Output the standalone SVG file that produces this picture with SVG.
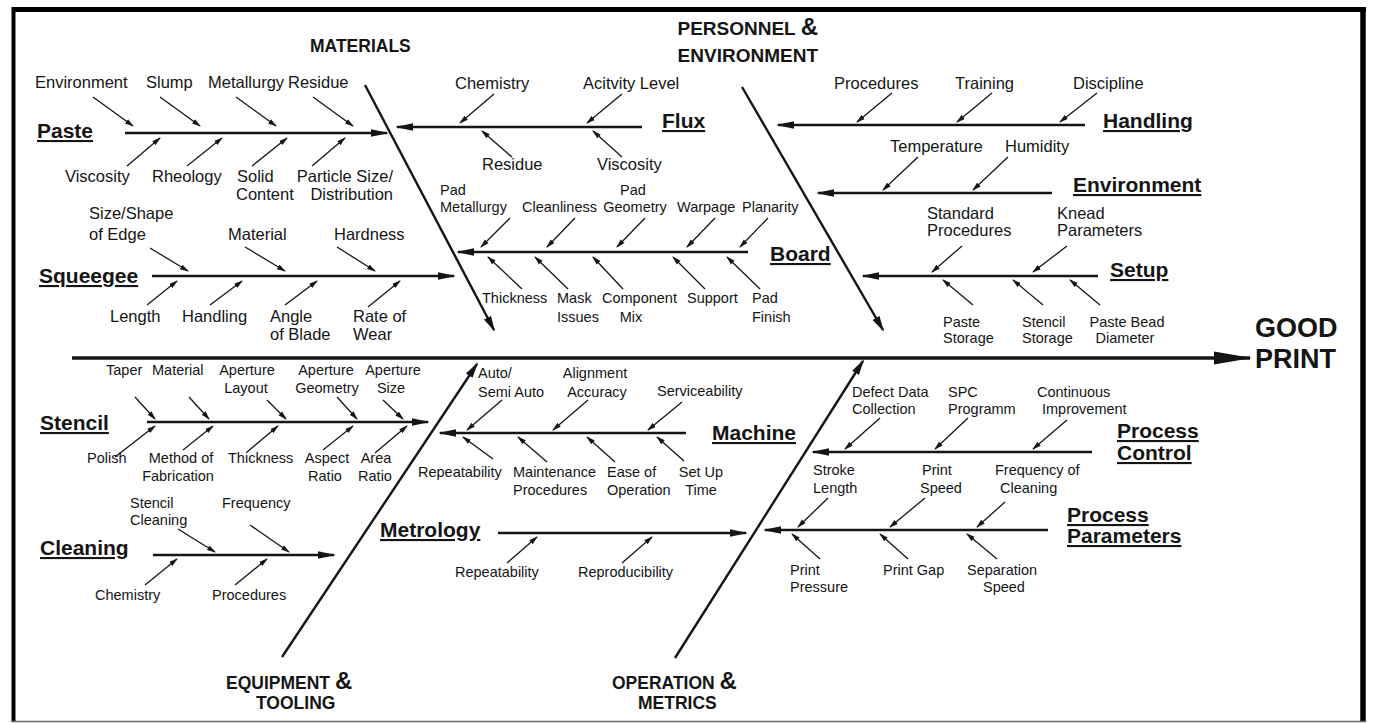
<svg xmlns="http://www.w3.org/2000/svg" width="1375" height="723" viewBox="0 0 1375 723">
<defs>
<style>
text { font-family: "Liberation Sans", Arial, Helvetica, sans-serif; fill: #151515; }
.l { font-size: 16.5px; }
.s { font-size: 14.5px; }
.m { text-anchor: middle; }
.e { text-anchor: end; }
.h { font-size: 21px; font-weight: bold; text-decoration: underline; }
.big { font-size: 17.5px; font-weight: bold; }
.bigw { font-size: 19px; font-weight: bold; }
.amp { font-size: 24px; }
.goal { font-size: 27px; font-weight: bold; }
.sub { stroke: #151515; stroke-width: 1.3; fill: none; marker-end: url(#ah); }
.cat { stroke: #151515; stroke-width: 2.4; fill: none; marker-end: url(#ahc); }
.bone { stroke: #151515; stroke-width: 2.4; fill: none; marker-end: url(#ahb); }
.spine { stroke: #151515; stroke-width: 3.4; fill: none; marker-end: url(#ahm); }
</style>
<marker id="ah" markerUnits="userSpaceOnUse" markerWidth="10" markerHeight="6" refX="8" refY="3" orient="auto"><path d="M0,0.4 L9,3 L0,5.6 z" fill="#151515"/></marker>
<marker id="ahc" markerUnits="userSpaceOnUse" markerWidth="19" markerHeight="10" refX="16" refY="5" orient="auto"><path d="M0,1.2 L18,5 L0,8.8 z" fill="#151515"/></marker>
<marker id="ahb" markerUnits="userSpaceOnUse" markerWidth="17" markerHeight="10" refX="14" refY="5" orient="auto"><path d="M0,1 L16,5 L0,9 z" fill="#151515"/></marker>
<marker id="ahm" markerUnits="userSpaceOnUse" markerWidth="40" markerHeight="16" refX="36" refY="8" orient="auto"><path d="M0,1.5 L38,8 L0,14.5 z" fill="#151515"/></marker>
</defs>

<rect width="1375" height="723" fill="#ffffff"/>

<!-- frame -->
<g id="frame" fill="none">
  <line x1="12" y1="9.5" x2="1366" y2="9.5" stroke="#000" stroke-width="5"/>
  <line x1="13.5" y1="7" x2="13.5" y2="722" stroke="#000" stroke-width="4"/>
  <line x1="1363" y1="7" x2="1363" y2="722" stroke="#000" stroke-width="5.5"/>
  <line x1="12" y1="721.5" x2="1366" y2="721.5" stroke="#666" stroke-width="1.5"/>
</g>

<!-- connectors -->
<g id="connectors">
  <line class="spine" x1="72" y1="358" x2="1250" y2="358"/>
  <!-- main bones -->
  <line class="bone" x1="365" y1="85" x2="494" y2="330"/>
  <line class="bone" x1="742" y1="87" x2="883" y2="330"/>
  <line class="bone" x1="282" y1="657" x2="477" y2="364"/>
  <line class="bone" x1="675" y1="658" x2="863" y2="361"/>
  <!-- category spines -->
  <line class="cat" x1="125" y1="133" x2="387" y2="133"/>
  <line class="cat" x1="642" y1="127" x2="397" y2="127"/>
  <line class="cat" x1="748" y1="252" x2="458" y2="252"/>
  <line class="cat" x1="152" y1="276" x2="454" y2="276"/>
  <line class="cat" x1="1085" y1="125" x2="778" y2="125"/>
  <line class="cat" x1="1052" y1="193" x2="818" y2="193"/>
  <line class="cat" x1="1098" y1="276" x2="863" y2="276"/>
  <line class="cat" x1="147" y1="422" x2="428" y2="422"/>
  <line class="cat" x1="153" y1="555" x2="334" y2="555"/>
  <line class="cat" x1="686" y1="433" x2="440" y2="433"/>
  <line class="cat" x1="498" y1="533" x2="746" y2="533"/>
  <line class="cat" x1="1092" y1="452" x2="813" y2="452"/>
  <line class="cat" x1="1048" y1="530" x2="765" y2="530"/>
  <!-- paste causes -->
  <line class="sub" x1="93" y1="97" x2="133" y2="126"/>
  <line class="sub" x1="160" y1="97" x2="200" y2="126"/>
  <line class="sub" x1="236" y1="97" x2="276" y2="126"/>
  <line class="sub" x1="313" y1="97" x2="353" y2="126"/>
  <line class="sub" x1="127" y1="166" x2="160" y2="138"/>
  <line class="sub" x1="187" y1="166" x2="222" y2="138"/>
  <line class="sub" x1="252" y1="166" x2="287" y2="138"/>
  <line class="sub" x1="312" y1="166" x2="345" y2="138"/>
  <!-- flux causes -->
  <line class="sub" x1="494" y1="94" x2="460" y2="123"/>
  <line class="sub" x1="622" y1="94" x2="587" y2="123"/>
  <line class="sub" x1="512" y1="157" x2="482" y2="131"/>
  <line class="sub" x1="622" y1="157" x2="593" y2="131"/>
  <!-- board causes -->
  <line class="sub" x1="510" y1="218" x2="481" y2="247"/>
  <line class="sub" x1="575" y1="218" x2="547" y2="247"/>
  <line class="sub" x1="645" y1="218" x2="617" y2="247"/>
  <line class="sub" x1="715" y1="218" x2="687" y2="247"/>
  <line class="sub" x1="768" y1="218" x2="740" y2="247"/>
  <line class="sub" x1="522" y1="289" x2="488" y2="257"/>
  <line class="sub" x1="568" y1="289" x2="535" y2="257"/>
  <line class="sub" x1="623" y1="289" x2="593" y2="257"/>
  <line class="sub" x1="705" y1="289" x2="673" y2="257"/>
  <line class="sub" x1="760" y1="289" x2="727" y2="257"/>
  <!-- squeegee causes -->
  <line class="sub" x1="150" y1="248" x2="188" y2="271"/>
  <line class="sub" x1="245" y1="247" x2="285" y2="271"/>
  <line class="sub" x1="337" y1="247" x2="375" y2="271"/>
  <line class="sub" x1="147" y1="305" x2="177" y2="281"/>
  <line class="sub" x1="210" y1="305" x2="242" y2="281"/>
  <line class="sub" x1="285" y1="305" x2="317" y2="281"/>
  <line class="sub" x1="368" y1="307" x2="400" y2="281"/>
  <!-- handling / environment / setup causes -->
  <line class="sub" x1="892" y1="93" x2="857" y2="122"/>
  <line class="sub" x1="992" y1="93" x2="957" y2="122"/>
  <line class="sub" x1="1097" y1="93" x2="1060" y2="122"/>
  <line class="sub" x1="918" y1="157" x2="883" y2="190"/>
  <line class="sub" x1="1008" y1="157" x2="973" y2="190"/>
  <line class="sub" x1="962" y1="246" x2="932" y2="272"/>
  <line class="sub" x1="1067" y1="246" x2="1033" y2="272"/>
  <line class="sub" x1="973" y1="305" x2="943" y2="280"/>
  <line class="sub" x1="1043" y1="305" x2="1013" y2="280"/>
  <line class="sub" x1="1100" y1="305" x2="1070" y2="280"/>
  <!-- stencil causes -->
  <line class="sub" x1="135" y1="397" x2="155" y2="419"/>
  <line class="sub" x1="189" y1="397" x2="209" y2="419"/>
  <line class="sub" x1="267" y1="400" x2="286" y2="419"/>
  <line class="sub" x1="337" y1="397" x2="357" y2="419"/>
  <line class="sub" x1="383" y1="400" x2="403" y2="419"/>
  <line class="sub" x1="115" y1="457" x2="155" y2="426"/>
  <line class="sub" x1="183" y1="450" x2="213" y2="426"/>
  <line class="sub" x1="247" y1="452" x2="278" y2="426"/>
  <line class="sub" x1="323" y1="450" x2="353" y2="426"/>
  <line class="sub" x1="375" y1="453" x2="407" y2="426"/>
  <!-- cleaning causes -->
  <line class="sub" x1="178" y1="529" x2="215" y2="552"/>
  <line class="sub" x1="250" y1="525" x2="289" y2="552"/>
  <line class="sub" x1="145" y1="585" x2="177" y2="559"/>
  <line class="sub" x1="235" y1="585" x2="267" y2="559"/>
  <!-- machine causes -->
  <line class="sub" x1="502" y1="400" x2="467" y2="430"/>
  <line class="sub" x1="588" y1="400" x2="553" y2="430"/>
  <line class="sub" x1="682" y1="402" x2="648" y2="430"/>
  <line class="sub" x1="493" y1="459" x2="463" y2="437"/>
  <line class="sub" x1="547" y1="462" x2="518" y2="437"/>
  <line class="sub" x1="615" y1="462" x2="587" y2="437"/>
  <line class="sub" x1="684" y1="461" x2="657" y2="437"/>
  <!-- metrology causes -->
  <line class="sub" x1="507" y1="563" x2="537" y2="537"/>
  <line class="sub" x1="622" y1="563" x2="652" y2="537"/>
  <!-- process control causes -->
  <line class="sub" x1="880" y1="418" x2="845" y2="449"/>
  <line class="sub" x1="968" y1="418" x2="935" y2="449"/>
  <line class="sub" x1="1067" y1="420" x2="1033" y2="449"/>
  <!-- process parameter causes -->
  <line class="sub" x1="828" y1="498" x2="798" y2="527"/>
  <line class="sub" x1="925" y1="498" x2="890" y2="527"/>
  <line class="sub" x1="1005" y1="502" x2="977" y2="527"/>
  <line class="sub" x1="820" y1="559" x2="792" y2="534"/>
  <line class="sub" x1="908" y1="559" x2="880" y2="534"/>
  <line class="sub" x1="997" y1="559" x2="967" y2="534"/>
</g>

<!-- main categories -->
<g id="materials"><text class="big" x="310" y="52">MATERIALS</text></g>
<g id="personnel-environment">
  <text class="bigw e" x="818" y="35">PERSONNEL <tspan class="amp">&amp;</tspan></text>
  <text class="bigw e" x="818" y="62">ENVIRONMENT</text>
</g>
<g id="equipment-tooling">
  <text class="big" x="226" y="689">EQUIPMENT <tspan class="amp">&amp;</tspan></text>
  <text class="big" x="256" y="709">TOOLING</text>
</g>
<g id="operation-metrics">
  <text class="big" x="612" y="689">OPERATION <tspan class="amp">&amp;</tspan></text>
  <text class="big" x="638" y="709">METRICS</text>
</g>
<g id="good-print">
  <text class="goal" x="1255" y="337">GOOD</text>
  <text class="goal" x="1255" y="368">PRINT</text>
</g>

<!-- paste -->
<g id="paste">
  <text class="h" x="37" y="138">Paste</text>
  <text class="l" x="35" y="88">Environment</text>
  <text class="l" x="146" y="88">Slump</text>
  <text class="l" x="208" y="88">Metallurgy</text>
  <text class="l" x="288" y="88">Residue</text>
  <text class="l" x="65" y="182">Viscosity</text>
  <text class="l" x="152" y="182">Rheology</text>
  <text class="l" x="237" y="182">Solid</text>
  <text class="l" x="236" y="200">Content</text>
  <text class="l e" x="393" y="182">Particle Size/</text>
  <text class="l e" x="393" y="200">Distribution</text>
</g>

<!-- flux -->
<g id="flux">
  <text class="h" x="662" y="128">Flux</text>
  <text class="l" x="455" y="89">Chemistry</text>
  <text class="l" x="583" y="89">Acitvity Level</text>
  <text class="l" x="482" y="170">Residue</text>
  <text class="l" x="597" y="170">Viscosity</text>
</g>

<!-- board -->
<g id="board">
  <text class="h" x="770" y="261">Board</text>
  <text class="s" x="440" y="195">Pad</text>
  <text class="s" x="440" y="212">Metallurgy</text>
  <text class="s" x="522" y="212">Cleanliness</text>
  <text class="s m" x="633" y="195">Pad</text>
  <text class="s m" x="635" y="212">Geometry</text>
  <text class="s" x="677" y="212">Warpage</text>
  <text class="s" x="742" y="212">Planarity</text>
  <text class="s" x="482" y="303">Thickness</text>
  <text class="s" x="557" y="303">Mask</text>
  <text class="s" x="557" y="322">Issues</text>
  <text class="s" x="602" y="303">Component</text>
  <text class="s m" x="631" y="322">Mix</text>
  <text class="s" x="687" y="303">Support</text>
  <text class="s" x="752" y="303">Pad</text>
  <text class="s" x="752" y="322">Finish</text>
</g>

<!-- squeegee -->
<g id="squeegee">
  <text class="h" x="39" y="283">Squeegee</text>
  <text class="l" x="89" y="219">Size/Shape</text>
  <text class="l" x="89" y="240">of Edge</text>
  <text class="l" x="228" y="240">Material</text>
  <text class="l" x="334" y="240">Hardness</text>
  <text class="l" x="110" y="322">Length</text>
  <text class="l" x="182" y="322">Handling</text>
  <text class="l" x="270" y="322">Angle</text>
  <text class="l" x="270" y="340">of Blade</text>
  <text class="l" x="353" y="322">Rate of</text>
  <text class="l" x="353" y="340">Wear</text>
</g>

<!-- handling -->
<g id="handling">
  <text class="h" x="1103" y="128">Handling</text>
  <text class="l" x="834" y="89">Procedures</text>
  <text class="l" x="955" y="89">Training</text>
  <text class="l" x="1073" y="89">Discipline</text>
</g>

<!-- environment -->
<g id="environment">
  <text class="h" x="1073" y="192">Environment</text>
  <text class="l" x="890" y="152">Temperature</text>
  <text class="l" x="1005" y="152">Humidity</text>
</g>

<!-- setup -->
<g id="setup">
  <text class="h" x="1110" y="277">Setup</text>
  <text class="l" x="927" y="219">Standard</text>
  <text class="l" x="927" y="236">Procedures</text>
  <text class="l" x="1057" y="219">Knead</text>
  <text class="l" x="1057" y="236">Parameters</text>
  <text class="s" x="943" y="327">Paste</text>
  <text class="s" x="943" y="343">Storage</text>
  <text class="s" x="1022" y="327">Stencil</text>
  <text class="s" x="1022" y="343">Storage</text>
  <text class="s m" x="1127" y="327">Paste Bead</text>
  <text class="s m" x="1125" y="343">Diameter</text>
</g>

<!-- stencil -->
<g id="stencil">
  <text class="h" x="40" y="430">Stencil</text>
  <text class="s" x="106" y="375">Taper</text>
  <text class="s" x="152" y="375">Material</text>
  <text class="s m" x="247" y="375">Aperture</text>
  <text class="s m" x="246" y="393">Layout</text>
  <text class="s m" x="326" y="375">Aperture</text>
  <text class="s m" x="327" y="393">Geometry</text>
  <text class="s m" x="393" y="375">Aperture</text>
  <text class="s m" x="391" y="393">Size</text>
  <text class="s" x="87" y="463">Polish</text>
  <text class="s m" x="181" y="463">Method of</text>
  <text class="s m" x="178" y="481">Fabrication</text>
  <text class="s" x="228" y="463">Thickness</text>
  <text class="s m" x="327" y="463">Aspect</text>
  <text class="s m" x="325" y="481">Ratio</text>
  <text class="s m" x="376" y="463">Area</text>
  <text class="s m" x="375" y="481">Ratio</text>
</g>

<!-- cleaning -->
<g id="cleaning">
  <text class="h" x="40" y="555">Cleaning</text>
  <text class="s" x="130" y="508">Stencil</text>
  <text class="s" x="130" y="525">Cleaning</text>
  <text class="s" x="222" y="508">Frequency</text>
  <text class="s" x="95" y="600">Chemistry</text>
  <text class="s" x="212" y="600">Procedures</text>
</g>

<!-- machine -->
<g id="machine">
  <text class="h" x="712" y="440">Machine</text>
  <text class="s" x="478" y="378">Auto/</text>
  <text class="s" x="478" y="397">Semi Auto</text>
  <text class="s m" x="595" y="378">Alignment</text>
  <text class="s m" x="597" y="397">Accuracy</text>
  <text class="s" x="657" y="396">Serviceability</text>
  <text class="s" x="418" y="477">Repeatability</text>
  <text class="s" x="513" y="477">Maintenance</text>
  <text class="s" x="513" y="495">Procedures</text>
  <text class="s" x="607" y="477">Ease of</text>
  <text class="s" x="607" y="495">Operation</text>
  <text class="s m" x="701" y="477">Set Up</text>
  <text class="s m" x="701" y="495">Time</text>
</g>

<!-- metrology -->
<g id="metrology">
  <text class="h" x="380" y="537">Metrology</text>
  <text class="s" x="455" y="577">Repeatability</text>
  <text class="s" x="578" y="577">Reproducibility</text>
</g>

<!-- process control -->
<g id="process-control">
  <text class="h" x="1117" y="438">Process</text>
  <text class="h" x="1117" y="460">Control</text>
  <text class="s" x="852" y="397">Defect Data</text>
  <text class="s" x="852" y="414">Collection</text>
  <text class="s" x="948" y="397">SPC</text>
  <text class="s" x="948" y="414">Programm</text>
  <text class="s" x="1037" y="397">Continuous</text>
  <text class="s" x="1042" y="414">Improvement</text>
</g>

<!-- process parameters -->
<g id="process-parameters">
  <text class="h" x="1067" y="522">Process</text>
  <text class="h" x="1067" y="543">Parameters</text>
  <text class="s" x="813" y="475">Stroke</text>
  <text class="s" x="813" y="493">Length</text>
  <text class="s" x="922" y="475">Print</text>
  <text class="s" x="920" y="493">Speed</text>
  <text class="s" x="995" y="475">Frequency of</text>
  <text class="s" x="1000" y="493">Cleaning</text>
  <text class="s" x="790" y="575">Print</text>
  <text class="s" x="790" y="592">Pressure</text>
  <text class="s" x="883" y="575">Print Gap</text>
  <text class="s" x="967" y="575">Separation</text>
  <text class="s" x="983" y="592">Speed</text>
</g>
</svg>
